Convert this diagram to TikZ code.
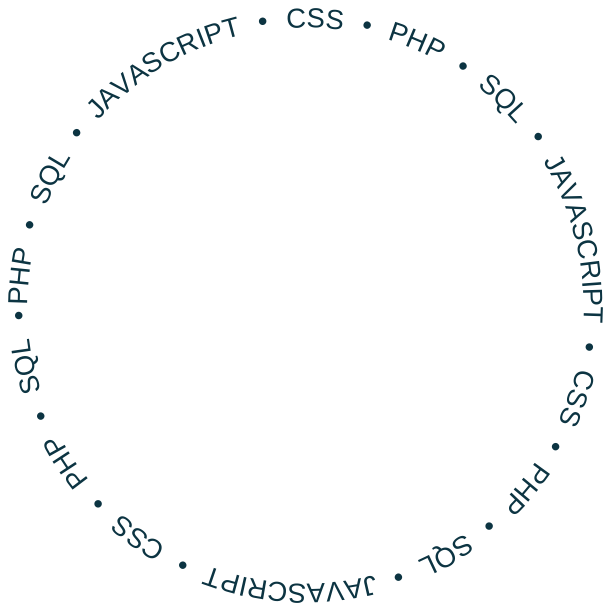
\documentclass[tikz,border=0pt]{standalone}
\usepackage{fontspec}
\setmainfont{Liberation Sans}
\usetikzlibrary{decorations.text}
\definecolor{ink}{RGB}{12,52,66}
\begin{document}
\begin{tikzpicture}[x=1pt,y=1pt]
\useasboundingbox (-306,-306) rectangle (306,306);
\path[decorate, decoration={text along path, text color=ink,
  text={|\fontsize{27.5}{30}\selectfont|PHP • SQL • JAVASCRIPT • CSS • PHP • SQL • JAVASCRIPT • CSS • PHP • SQL • JAVASCRIPT • CSS • PHP • SQL •},
  text align={fit to path stretching spaces}}]
  (180:278) arc[start angle=180, end angle=-179, radius=278];
\end{tikzpicture}
\end{document}
